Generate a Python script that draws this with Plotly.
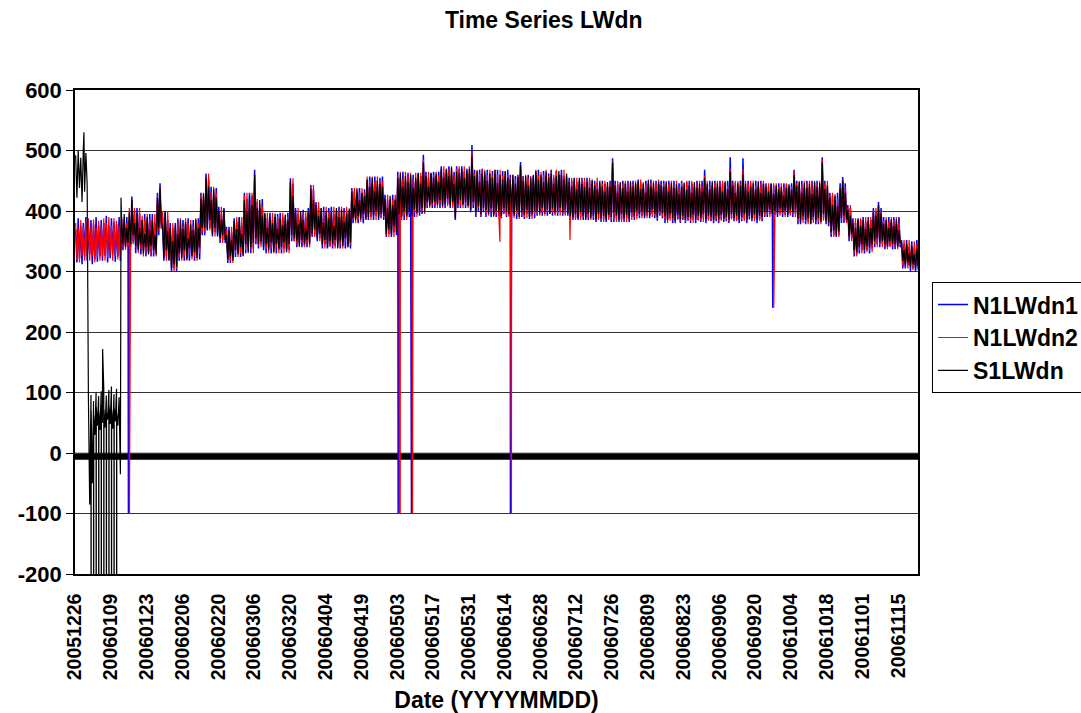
import numpy as np
import plotly.graph_objects as go

# ---------------- data (daily high / low samples, day index 0 = 20051226) ----------------
tick_labels = ["20051226", "20060109", "20060123", "20060206", "20060220", "20060306",
               "20060320", "20060404", "20060419", "20060503", "20060517", "20060531",
               "20060614", "20060628", "20060712", "20060726", "20060809", "20060823",
               "20060906", "20060920", "20061004", "20061018", "20061101", "20061115"]
y_tick_vals = [-200, -100, 0, 100, 200, 300, 400, 500, 600]
y_tick_text = ["-200", "-100", "0", "100", "200", "300", "400", "500", "600"]

s1_hi = [492, 500, 488, 503, 496, 90, 96, 86, 100, 94,
         102, 108, 95, 104, 110, 97, 106, 92, 380, 395,
         372, 398, 418, 380, 396, 372, 385, 362, 390, 368,
         384, 360, 422, 438, 375, 398, 366, 372, 350, 376,
         362, 385, 370, 382, 355, 378, 368, 386, 372, 420,
         428, 455, 440, 418, 436, 422, 400, 385, 402, 360,
         368, 352, 384, 370, 388, 362, 418, 400, 426, 410,
         460, 405, 418, 392, 395, 372, 390, 380, 396, 370,
         388, 376, 394, 385, 448, 425, 398, 378, 400, 385,
         372, 398, 436, 418, 410, 392, 405, 380, 400, 388,
         398, 375, 405, 390, 402, 382, 396, 404, 432, 410,
         436, 418, 430, 425, 452, 440, 455, 432, 450, 445,
         440, 420, 405, 425, 410, 418, 455, 462, 440, 458,
         448, 460, 438, 455, 462, 445, 480, 458, 440, 462,
         455, 462, 448, 470, 455, 468, 458, 472, 445, 465,
         462, 470, 455, 466, 470, 490, 458, 466, 448, 462,
         465, 450, 462, 455, 468, 446, 460, 452, 466, 455,
         452, 460, 445, 456, 475, 450, 458, 442, 455, 460,
         466, 452, 460, 448, 465, 455, 462, 445, 458, 466,
         460, 452, 462, 448, 440, 452, 436, 455, 445, 440,
         448, 438, 452, 442, 436, 450, 440, 432, 448, 440,
         480, 442, 430, 448, 438, 445, 432, 448, 440, 446,
         448, 436, 445, 430, 450, 440, 446, 432, 448, 442,
         440, 448, 432, 446, 438, 444, 428, 440, 447, 435,
         442, 430, 448, 438, 445, 432, 455, 445, 436, 448,
         438, 446, 440, 432, 448, 436, 465, 442, 430, 446,
         442, 460, 445, 432, 440, 446, 436, 448, 430, 444,
         440, 432, 444, 428, 442, 436, 440, 425, 438, 444,
         435, 460, 442, 448, 430, 446, 438, 445, 428, 448,
         440, 446, 480, 436, 442, 422, 410, 425, 408, 438,
         450, 430, 402, 392, 380, 372, 386, 375, 385, 370,
         384, 372, 398, 392, 410, 396, 378, 385, 372, 386,
         375, 386, 368, 348, 335, 345, 330, 342, 328, 338]

s1_lo = [422, 438, 415, 432, 445, -85, -50, 30, 45, 38,
         50, 42, 55, 48, 40, 52, 45, -35, 345, 340,
         348, 345, 360, 342, 335, 345, 330, 340, 328, 342,
         335, 328, 372, 380, 322, 335, 320, 305, 312, 308,
         330, 322, 335, 320, 338, 325, 332, 322, 340, 372,
         372, 370, 385, 362, 372, 360, 355, 360, 352, 320,
         325, 318, 335, 328, 340, 326, 345, 332, 340, 348,
         355, 345, 350, 340, 345, 335, 348, 332, 345, 338,
         340, 348, 335, 345, 360, 355, 350, 342, 352, 345,
         352, 345, 362, 370, 355, 362, 345, 352, 340, 350,
         345, 352, 338, 350, 342, 355, 340, 348, 388, 385,
         392, 386, 395, 388, 390, 398, 392, 400, 390, 395,
         392, 362, 370, 360, 375, 365, 395, 390, 400, 392,
         398, 392, 402, 396, 400, 405, 398, 415, 408, 412,
         415, 410, 418, 408, 412, 420, 410, 415, 388, 412,
         418, 410, 415, 408, 402, 415, 398, 408, 395, 405,
         402, 395, 405, 392, 400, 398, 392, 405, 398, 395,
         398, 392, 400, 390, 398, 394, 402, 390, 396, 400,
         400, 396, 405, 398, 402, 395, 404, 398, 400, 405,
         398, 402, 396, 392, 390, 395, 388, 398, 392, 388,
         395, 388, 392, 386, 395, 388, 392, 385, 394, 390,
         398, 392, 386, 395, 388, 394, 386, 398, 392, 400,
         395, 400, 392, 398, 392, 402, 395, 390, 400, 396,
         392, 385, 395, 388, 384, 394, 386, 392, 385, 390,
         388, 394, 386, 392, 388, 395, 386, 392, 390, 385,
         392, 386, 394, 388, 390, 386, 395, 388, 392, 386,
         390, 395, 386, 392, 388, 394, 386, 392, 390, 398,
         398, 402, 395, 400, 396, 404, 398, 400, 394, 402,
         398, 402, 388, 382, 392, 385, 388, 380, 390, 385,
         388, 382, 395, 384, 380, 365, 368, 360, 366, 388,
         392, 386, 358, 362, 335, 332, 340, 345, 336, 342,
         340, 345, 350, 355, 348, 350, 345, 342, 350, 345,
         345, 340, 348, 318, 310, 315, 308, 312, 305, 310]

n1_hi = [370, 388, 375, 380, 390, 372, 385, 378, 390, 376,
         385, 380, 392, 375, 388, 382, 378, 390, 386, 378,
         390, 385, 424, 400, 405, 395, 380, 395, 385, 395,
         395, 380, 430, 446, 390, 400, 385, 380, 372, 380,
         388, 372, 385, 378, 388, 368, 385, 375, 388, 430,
         418, 462, 452, 440, 425, 438, 407, 395, 405, 374,
         374, 365, 388, 382, 390, 375, 430, 420, 430, 425,
         468, 415, 405, 420, 397, 388, 397, 385, 390, 395,
         397, 390, 385, 397, 454, 445, 405, 395, 390, 402,
         390, 405, 443, 435, 415, 405, 398, 407, 392, 405,
         407, 395, 400, 407, 390, 405, 400, 395, 438, 432,
         430, 438, 425, 436, 450, 457, 445, 457, 440, 455,
         457, 427, 418, 410, 427, 420, 465, 455, 465, 450,
         463, 455, 460, 450, 463, 458, 493, 465, 455, 463,
         465, 458, 465, 474, 462, 470, 474, 460, 465, 474,
         470, 474, 465, 470, 462, 509, 468, 460, 468, 470,
         460, 468, 455, 466, 460, 468, 450, 466, 458, 468,
         460, 452, 458, 460, 481, 458, 448, 460, 450, 458,
         460, 468, 455, 466, 458, 462, 468, 455, 466, 460,
         468, 458, 455, 455, 450, 455, 448, 450, 455, 448,
         455, 450, 445, 450, 448, 440, 450, 445, 440, 450,
         487, 450, 445, 440, 450, 446, 450, 440, 450, 442,
         452, 446, 438, 450, 444, 452, 438, 450, 445, 450,
         450, 442, 450, 440, 450, 438, 446, 450, 440, 448,
         450, 446, 440, 450, 438, 450, 468, 440, 450, 442,
         450, 440, 450, 446, 438, 450, 489, 450, 446, 438,
         450, 487, 440, 450, 446, 438, 450, 440, 450, 446,
         446, 440, 446, 442, 436, 446, 432, 446, 444, 438,
         446, 468, 450, 440, 450, 438, 450, 440, 450, 442,
         450, 440, 489, 450, 438, 430, 425, 418, 430, 446,
         456, 446, 410, 405, 388, 380, 388, 385, 390, 382,
         390, 385, 405, 400, 415, 405, 390, 378, 390, 382,
         390, 378, 390, 352, 345, 352, 340, 350, 338, 352]

n1_lo = [315, 322, 312, 325, 318, 328, 312, 320, 316, 325,
         318, 326, 315, 322, 328, 316, 325, 318, 335, 342,
         335, 340, 348, 330, 338, 328, 335, 325, 332, 325,
         325, 335, 360, 372, 318, 325, 318, 300, 305, 300,
         318, 328, 318, 325, 318, 330, 318, 328, 320, 360,
         360, 368, 372, 358, 365, 358, 347, 352, 347, 314,
         314, 322, 324, 335, 324, 332, 330, 340, 330, 338,
         345, 338, 345, 335, 330, 340, 330, 338, 330, 336,
         330, 338, 332, 336, 350, 350, 340, 348, 340, 342,
         340, 348, 357, 360, 350, 355, 338, 345, 338, 342,
         338, 342, 345, 338, 348, 338, 345, 338, 380, 388,
         380, 390, 380, 385, 385, 390, 385, 392, 385, 388,
         385, 357, 362, 357, 365, 360, 385, 392, 385, 390,
         390, 398, 390, 400, 392, 395, 405, 405, 412, 405,
         405, 412, 405, 410, 405, 412, 405, 410, 385, 405,
         405, 412, 405, 410, 398, 405, 390, 400, 390, 398,
         390, 398, 390, 395, 390, 392, 388, 395, 390, 392,
         387, 395, 387, 392, 390, 387, 395, 387, 392, 388,
         392, 398, 392, 395, 392, 400, 392, 395, 392, 398,
         392, 395, 392, 385, 385, 388, 385, 390, 385, 385,
         385, 392, 385, 382, 388, 382, 386, 382, 388, 382,
         382, 388, 382, 386, 382, 388, 382, 390, 385, 392,
         388, 392, 388, 392, 388, 395, 388, 384, 392, 388,
         380, 385, 388, 380, 380, 386, 380, 385, 380, 384,
         380, 386, 380, 385, 382, 388, 380, 386, 383, 380,
         383, 380, 386, 382, 383, 380, 388, 383, 385, 380,
         383, 388, 380, 386, 383, 388, 380, 386, 383, 390,
         390, 395, 390, 394, 390, 396, 390, 394, 390, 395,
         390, 396, 378, 378, 385, 378, 382, 378, 385, 378,
         378, 385, 388, 378, 375, 357, 360, 357, 360, 380,
         380, 382, 350, 355, 325, 328, 330, 335, 330, 335,
         330, 338, 340, 345, 340, 345, 337, 340, 342, 337,
         337, 342, 340, 305, 305, 310, 300, 305, 300, 305]

n2_hi = [380, 372, 385, 375, 382, 388, 376, 386, 372, 384,
         376, 388, 380, 390, 376, 388, 384, 375, 390, 388,
         380, 405, 415, 405, 392, 405, 392, 385, 395, 388,
         385, 395, 425, 440, 400, 385, 400, 372, 380, 375,
         382, 388, 375, 388, 380, 385, 376, 388, 380, 425,
         430, 455, 462, 432, 440, 430, 400, 407, 398, 370,
         365, 374, 380, 390, 382, 390, 425, 430, 418, 430,
         460, 420, 412, 408, 392, 397, 388, 397, 385, 392,
         390, 397, 392, 390, 445, 454, 398, 405, 395, 397,
         398, 400, 438, 443, 408, 415, 405, 398, 407, 398,
         400, 407, 395, 402, 407, 398, 407, 400, 435, 438,
         438, 430, 438, 430, 457, 450, 457, 448, 457, 450,
         450, 420, 427, 420, 418, 427, 458, 465, 455, 465,
         458, 463, 455, 463, 455, 463, 485, 460, 465, 458,
         460, 465, 458, 468, 474, 465, 468, 474, 460, 470,
         474, 465, 474, 462, 474, 498, 462, 468, 462, 468,
         468, 460, 468, 460, 468, 460, 468, 458, 465, 460,
         455, 460, 452, 458, 476, 455, 460, 455, 458, 452,
         468, 458, 465, 460, 468, 458, 465, 460, 468, 455,
         462, 468, 460, 450, 455, 448, 455, 446, 452, 455,
         450, 455, 450, 446, 455, 446, 445, 450, 446, 445,
         482, 445, 450, 446, 444, 450, 446, 450, 445, 450,
         446, 452, 448, 444, 452, 446, 450, 446, 452, 445,
         446, 450, 444, 450, 442, 450, 440, 448, 444, 450,
         444, 450, 446, 446, 450, 442, 458, 450, 442, 450,
         446, 450, 444, 450, 450, 442, 470, 446, 450, 450,
         446, 470, 450, 446, 450, 450, 442, 450, 446, 450,
         442, 446, 440, 446, 446, 440, 446, 440, 446, 442,
         440, 465, 446, 450, 444, 450, 446, 450, 446, 450,
         446, 450, 485, 446, 450, 425, 430, 428, 420, 440,
         452, 440, 405, 410, 382, 388, 384, 388, 386, 390,
         385, 390, 400, 405, 410, 400, 385, 390, 382, 390,
         385, 390, 382, 350, 352, 345, 352, 342, 350, 345]

n2_lo = [320, 315, 326, 318, 324, 318, 326, 315, 324, 318,
         325, 318, 324, 328, 318, 326, 320, 328, 340, 336,
         342, 335, 345, 340, 330, 338, 325, 332, 330, 326,
         330, 325, 368, 370, 325, 318, 322, 305, 300, 305,
         322, 318, 325, 318, 328, 320, 325, 318, 330, 365,
         365, 372, 368, 365, 358, 365, 352, 347, 352, 318,
         318, 314, 330, 324, 330, 325, 335, 330, 338, 330,
         350, 342, 340, 345, 335, 330, 338, 330, 340, 330,
         335, 330, 338, 330, 355, 350, 345, 340, 346, 340,
         345, 340, 360, 357, 355, 350, 345, 338, 345, 340,
         342, 338, 340, 345, 338, 348, 340, 345, 385, 380,
         385, 382, 390, 385, 392, 385, 392, 385, 392, 388,
         390, 360, 357, 362, 357, 365, 390, 385, 392, 385,
         395, 390, 398, 390, 398, 400, 395, 408, 405, 410,
         410, 405, 412, 405, 410, 408, 412, 405, 388, 410,
         410, 405, 410, 405, 402, 410, 395, 405, 392, 402,
         395, 392, 398, 390, 395, 392, 390, 398, 392, 390,
         392, 388, 395, 387, 392, 390, 388, 392, 387, 395,
         395, 392, 398, 392, 398, 395, 398, 392, 396, 392,
         395, 392, 398, 390, 388, 385, 390, 385, 390, 388,
         390, 385, 390, 385, 385, 386, 382, 388, 385, 386,
         386, 382, 388, 382, 385, 382, 388, 385, 390, 386,
         392, 388, 392, 388, 392, 390, 392, 388, 395, 390,
         385, 380, 384, 386, 382, 388, 382, 388, 382, 386,
         384, 380, 386, 384, 385, 382, 388, 384, 386, 383,
         386, 383, 384, 386, 385, 383, 386, 386, 383, 385,
         386, 383, 384, 390, 386, 383, 388, 384, 386, 392,
         394, 390, 396, 390, 395, 392, 395, 390, 396, 392,
         395, 390, 382, 385, 380, 384, 378, 385, 380, 384,
         382, 378, 384, 382, 378, 362, 357, 362, 357, 385,
         386, 380, 355, 350, 330, 325, 335, 330, 335, 332,
         335, 332, 345, 340, 345, 340, 340, 337, 340, 342,
         340, 337, 345, 310, 308, 305, 310, 302, 308, 302]

# isolated readings (spikes, drop-outs and the reading right after each drop-out)
s1_event_days = [3.5, 6.30, 6.33, 7.30, 7.33, 8.30, 8.33, 9.30, 9.33, 10.30, 10.33, 10.8,
                 11.30, 11.33, 12.30, 12.33, 13.30, 13.33, 14.30, 14.33, 15.30, 15.33,
                 16.30, 16.33, 18.0]
s1_event_vals = [530, -999, 70, -999, 62, -999, 75, -999, 68, -999, 80, 172,
                 -999, 72, -999, 66, -999, 78, -999, 70, -999, 74,
                 -999, 65, 422]
n1_event_days = [20.9, 126.4, 131.6, 170.3, 272.9]
n1_event_vals = [-100, -100, -100, -100, 240]
n2_event_days = [21.3, 126.9, 127.2, 132.0, 166.2, 170.7, 193.6, 273.3]
n2_event_vals = [-100, -100, -100, -100, 349, -100, 352, 240]


def build(hi, lo, ev_d, ev_v):
    x = np.concatenate([np.arange(len(hi)) + 0.25, np.arange(len(lo)) + 0.75, np.array(ev_d, float)])
    y = np.concatenate([np.array(hi, float), np.array(lo, float), np.array(ev_v, float)])
    order = np.argsort(x, kind="stable")
    return x[order], y[order]


FONT = "Liberation Sans, Arial, sans-serif"

fig = go.Figure()
for name, hi, lo, ed, ev, col, w in [
    ("N1LWdn1", n1_hi, n1_lo, n1_event_days, n1_event_vals, "#0000FF", 1.5),
    ("N1LWdn2", n2_hi, n2_lo, n2_event_days, n2_event_vals, "#FF0000", 1.2),
    ("S1LWdn", s1_hi, s1_lo, s1_event_days, s1_event_vals, "#000000", 1.2),
]:
    x, y = build(hi, lo, ed, ev)
    fig.add_trace(go.Scatter(x=x, y=y, mode="lines", name=name,
                             line=dict(color=col, width=w, simplify=False)))

# thick category-axis line crossing the value axis just below 0
fig.add_shape(type="line", xref="paper", x0=0, x1=1, yref="y", y0=-5.5, y1=-5.5,
              line=dict(color="black", width=7), layer="below")

fig.update_layout(
    width=1081, height=713,
    margin=dict(l=75, r=163, t=90, b=139, autoexpand=False),
    paper_bgcolor="white", plot_bgcolor="white",
    title=dict(text="Time Series LWdn", x=0.503, xref="container", xanchor="center",
               y=0.972, yref="container", yanchor="middle",
               font=dict(family=FONT, size=23, color="black", weight="bold")),
    showlegend=True,
    legend=dict(x=1.0166, xanchor="left", y=0.603, yanchor="top",
                bordercolor="black", borderwidth=1, bgcolor="white",
                font=dict(family=FONT, size=23, color="black", weight="bold"),
                itemwidth=30),
)
fig.update_xaxes(range=[0, 329.7], tickmode="array",
                 tickvals=[14 * i for i in range(len(tick_labels))], ticktext=tick_labels,
                 tickangle=-90, showgrid=False, zeroline=False,
                 showline=True, mirror=True, linecolor="black", linewidth=1.5,
                 ticks="", ticklabelstandoff=10,
                 tickfont=dict(family=FONT, size=19.5, color="black", weight="bold"),
                 title=dict(text="Date (YYYYMMDD)", standoff=17,
                            font=dict(family=FONT, size=23, color="black", weight="bold")))
fig.update_yaxes(range=[-200, 600], tickmode="array", tickvals=y_tick_vals, ticktext=y_tick_text,
                 showgrid=True, gridcolor="#333333", gridwidth=1, zeroline=False,
                 showline=True, mirror=True, linecolor="black", linewidth=1.5,
                 ticks="outside", ticklen=7, tickcolor="black", tickwidth=1,
                 tickfont=dict(family=FONT, size=22, color="black", weight="bold"))

fig.write_html("out.html")
